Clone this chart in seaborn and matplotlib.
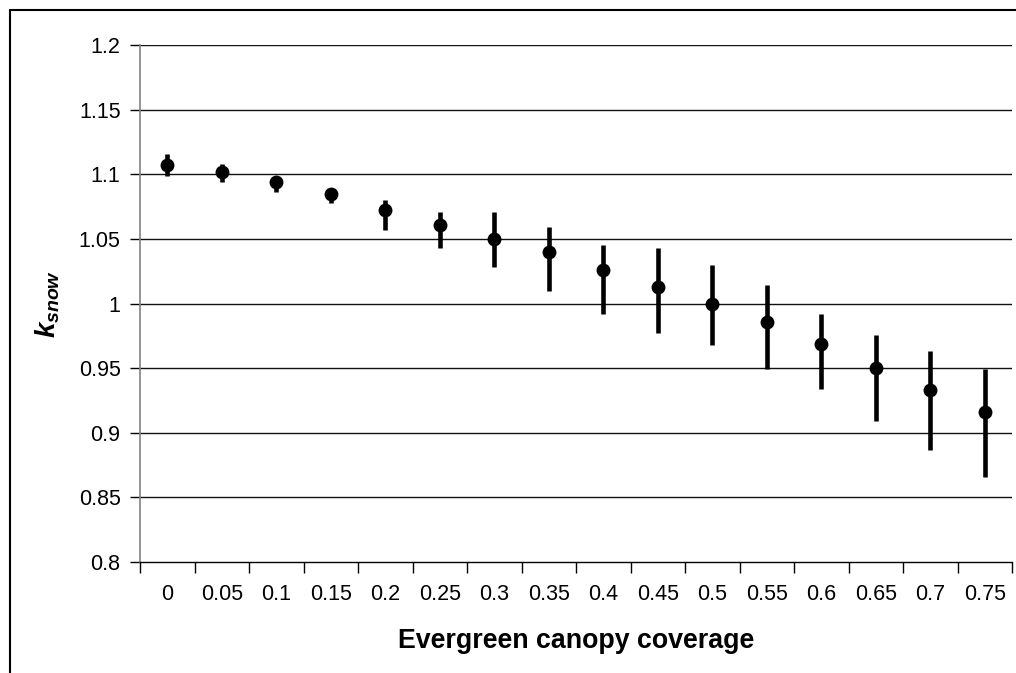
import numpy as np
import pandas as pd
import matplotlib
matplotlib.use("Agg")
import matplotlib.pyplot as plt
from matplotlib.lines import Line2D
import seaborn as sns

# canopy coverage classes and k_snow means with error bar bounds
coverage = ['0', '0.05', '0.1', '0.15', '0.2', '0.25', '0.3', '0.35',
            '0.4', '0.45', '0.5', '0.55', '0.6', '0.65', '0.7', '0.75']
k_snow = [1.107, 1.102, 1.094, 1.085, 1.072, 1.061, 1.050, 1.040,
          1.026, 1.013, 1.000, 0.986, 0.969, 0.950, 0.933, 0.916]
k_low = [1.099, 1.094, 1.086, 1.078, 1.057, 1.043, 1.028, 1.010,
         0.992, 0.977, 0.968, 0.949, 0.934, 0.909, 0.887, 0.866]
k_high = [1.116, 1.108, 1.099, 1.088, 1.080, 1.071, 1.071, 1.059,
          1.045, 1.043, 1.030, 1.014, 0.992, 0.976, 0.963, 0.949]
y_ticks = [0.8, 0.85, 0.9, 0.95, 1.0, 1.05, 1.1, 1.15, 1.2]
y_tick_labels = ['0.8', '0.85', '0.9', '0.95', '1', '1.05', '1.1', '1.15', '1.2']

df = pd.DataFrame({'coverage': coverage, 'k': k_snow, 'lo': k_low, 'hi': k_high})

sns.set_style('white')
plt.rcParams['font.family'] = ['Liberation Sans', 'DejaVu Sans']
plt.rcParams['text.color'] = 'black'
plt.rcParams['xtick.color'] = 'black'
plt.rcParams['ytick.color'] = 'black'
plt.rcParams['axes.labelcolor'] = 'black'
plt.rcParams['mathtext.fontset'] = 'custom'
plt.rcParams['mathtext.it'] = 'Liberation Sans:italic:bold'
plt.rcParams['mathtext.rm'] = 'Liberation Sans:bold'

fig = plt.figure(figsize=(10.16, 6.73), dpi=100)
ax = fig.add_axes([140 / 1016, 1 - 562 / 673, 872 / 1016, 517 / 673])

# grid lines first so the points sit on top
for yv in y_ticks[1:]:
    ax.axhline(yv, color='#111111', lw=1.0, zorder=1)

pos = np.arange(len(df))
ax.vlines(pos, df['lo'], df['hi'], color='black', lw=3.3, zorder=3)
sns.scatterplot(data=df, x='coverage', y='k', ax=ax, color='black', s=100,
                edgecolor='black', linewidth=0, zorder=4, legend=False)

ax.set_xlim(-0.5, len(df) - 0.5)
ax.set_ylim(0.8, 1.2)
ax.set_yticks(y_ticks)
ax.set_yticklabels(y_tick_labels)

# category axis: ticks between categories, labels centred
ax.set_xticks(np.arange(-0.5, len(df), 1.0))
ax.set_xticklabels([])
ax.set_xticks(pos, minor=True)
ax.set_xticklabels(coverage, minor=True)
ax.tick_params(axis='x', which='major', direction='out', length=8, width=1, color='black', bottom=True)
ax.tick_params(axis='x', which='minor', length=0, pad=16, labelsize=15.5)
ax.tick_params(axis='y', direction='out', length=7, width=1, color='black', pad=7, labelsize=15.5, left=True)

for side in ['top', 'right']:
    ax.spines[side].set_visible(False)
ax.spines['left'].set_color('#808080')
ax.spines['left'].set_linewidth(1.2)
ax.spines['bottom'].set_color('black')
ax.spines['bottom'].set_linewidth(1.0)

ax.set_xlabel('Evergreen canopy coverage', fontsize=19.3, fontweight='bold')
ax.xaxis.set_label_coords(0.5, -0.128)
ax.set_ylabel(r'$k_{snow}$', fontsize=20)
ax.yaxis.set_label_coords(-0.089, 0.5)

# outer chart frame (left and top edges visible)
fig.add_artist(Line2D([10 / 1016, 10 / 1016], [0, 1 - 10 / 673], transform=fig.transFigure, color='black', lw=1.5))
fig.add_artist(Line2D([10 / 1016, 1], [1 - 10 / 673, 1 - 10 / 673], transform=fig.transFigure, color='black', lw=1.5))

fig.savefig('out.png', dpi=100)
